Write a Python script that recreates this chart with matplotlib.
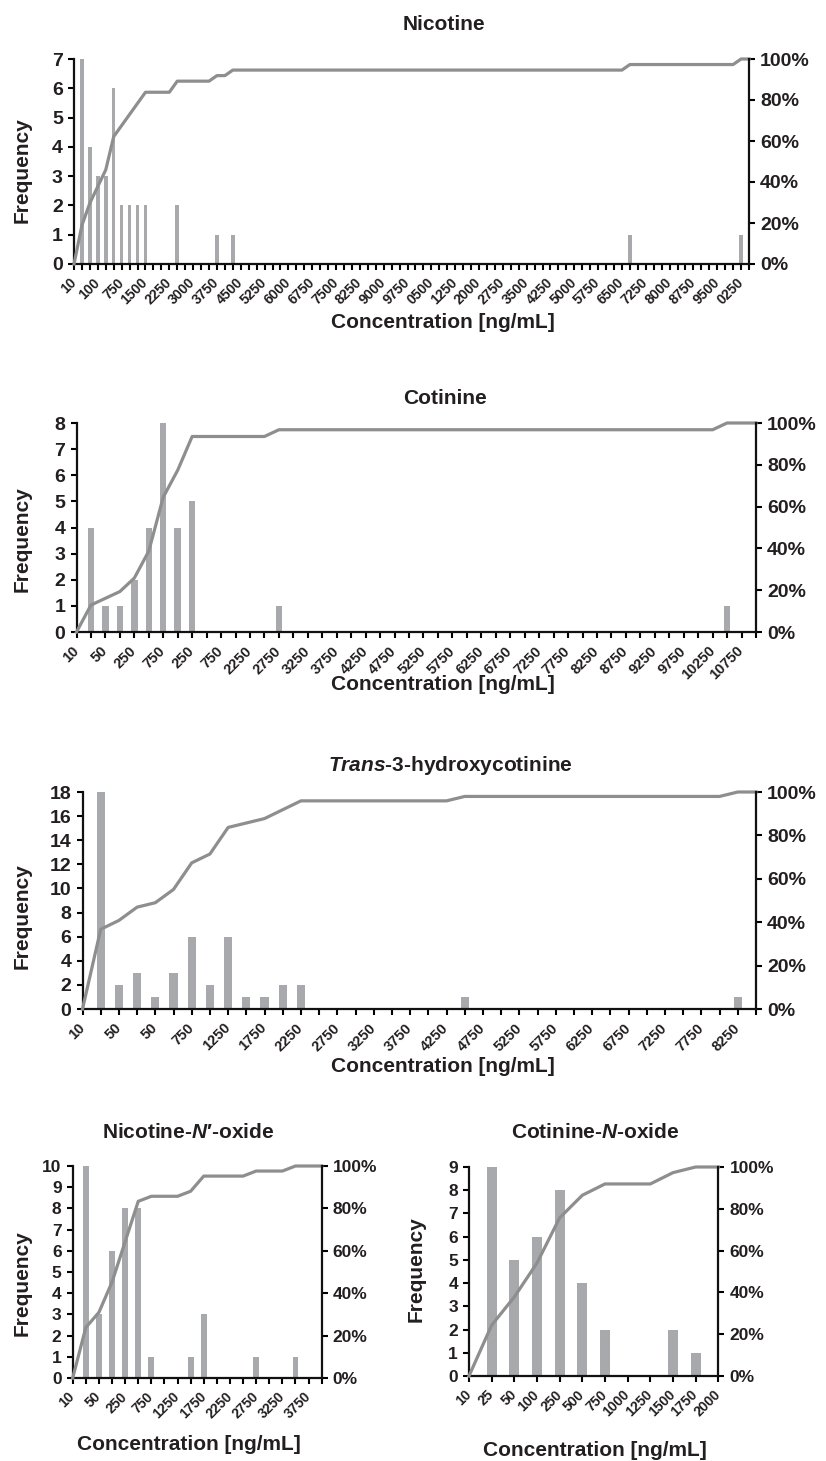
import numpy as np
import matplotlib
matplotlib.use('Agg')
import matplotlib.pyplot as plt

plt.rcParams['font.family'] = ['Liberation Sans', 'DejaVu Sans']
plt.rcParams['font.weight'] = 'bold'
plt.rcParams['mathtext.fontset'] = 'custom'
plt.rcParams['mathtext.it'] = 'Liberation Sans:italic:bold'
plt.rcParams['mathtext.rm'] = 'Liberation Sans:bold'
plt.rcParams['mathtext.bf'] = 'Liberation Sans:bold'

# ---------------- data ----------------
# Nicotine: 86 bins (10, 25, 50, 100, 250, 500, 750 ... 20250 step 250, More)
nic_counts = [0, 7, 4, 3, 3, 6, 2, 2, 2, 2,
              0, 0, 0, 2, 0, 0, 0, 0, 1, 0,
              1, 0, 0, 0, 0, 0, 0, 0, 0, 0,
              0, 0, 0, 0, 0, 0, 0, 0, 0, 0,
              0, 0, 0, 0, 0, 0, 0, 0, 0, 0,
              0, 0, 0, 0, 0, 0, 0, 0, 0, 0,
              0, 0, 0, 0, 0, 0, 0, 0, 0, 0,
              1, 0, 0, 0, 0, 0, 0, 0, 0, 0,
              0, 0, 0, 0, 1, 0]
nic_labels = ["10", "100", "750", "1500", "2250", "3000", "3750", "4500", "5250",
              "6000", "6750", "7500", "8250", "9000", "9750", "0500", "1250", "2000",
              "2750", "3500", "4250", "5000", "5750", "6500", "7250", "8000", "8750",
              "9500", "0250"]

# Cotinine: 48 bins
cot_counts = [0, 4, 1, 1, 2, 4, 8, 4, 5, 0,
              0, 0, 0, 0, 1, 0, 0, 0, 0, 0,
              0, 0, 0, 0, 0, 0, 0, 0, 0, 0,
              0, 0, 0, 0, 0, 0, 0, 0, 0, 0,
              0, 0, 0, 0, 0, 1, 0, 0]
cot_labels = ["10", "50", "250", "750", "250", "750", "2250", "2750", "3250", "3750",
              "4250", "4750", "5250", "5750", "6250", "6750", "7250", "7750", "8250",
              "8750", "9250", "9750", "10250", "10750"]

# Trans-3-hydroxycotinine: 38 bins
hc_counts = [0, 18, 2, 3, 1, 3, 6, 2, 6, 1,
             1, 2, 2, 0, 0, 0, 0, 0, 0, 0,
             0, 1, 0, 0, 0, 0, 0, 0, 0, 0,
             0, 0, 0, 0, 0, 0, 1, 0]
hc_labels = ["10", "50", "50", "750", "1250", "1750", "2250", "2750", "3250", "3750",
             "4250", "4750", "5250", "5750", "6250", "6750", "7250", "7750", "8250"]

# Nicotine-N'-oxide: 20 bins
nno_counts = [0, 10, 3, 6, 8, 8, 1, 0, 0, 1, 3, 0, 0, 0, 1, 0, 0, 1, 0, 0]
nno_labels = ["10", "50", "250", "750", "1250", "1750", "2250", "2750", "3250", "3750"]

# Cotinine-N-oxide: 12 bins
cno_counts = [0, 9, 5, 6, 8, 4, 2, 0, 0, 2, 1, 0]
cno_labels = ["10", "25", "50", "100", "250", "500", "750", "1000", "1250", "1500",
              "1750", "2000"]

# ---------------- styling ----------------
BAR = '#A7A9AC'
LINE = '#8E8E8E'
TXT = '#231F20'
W, H = 826, 1461
fig = plt.figure(figsize=(W / 100, H / 100), dpi=100)


def rect(l, r, t, b):
    return [l / W, 1 - b / H, (r - l) / W, (b - t) / H]


def fx(x):
    return x / W


def fy(y):
    return 1 - y / H


def panel(box, counts, labels, step, ymax, ystep, title, title_xy, xlabel_xy,
          ylabel_xy, ytick_fs, xtick_fs):
    ax = fig.add_axes(rect(*box))
    n = len(counts)
    x = np.arange(n)
    ax.bar(x, counts, width=0.45, color=BAR, zorder=2)
    ax.set_xlim(0, n - 1)
    ax.set_ylim(0, ymax)
    ax.set_yticks(np.arange(0, ymax + 0.01, ystep))
    full = [labels[i // step] if (i % step == 0 and i // step < len(labels)) else ''
            for i in range(n)]
    ax.set_xticks(x)
    ax.set_xticklabels(full, rotation=45, ha='right', va='center',
                       rotation_mode='anchor', fontsize=xtick_fs, color=TXT)
    for lab in ax.get_yticklabels():
        lab.set_fontsize(ytick_fs)
        lab.set_color(TXT)
    ax.tick_params(axis='x', direction='out', length=4, width=1.5, pad=8)
    ax.tick_params(axis='y', direction='out', length=4, width=1.5, pad=4)
    for s in ['top', 'right']:
        ax.spines[s].set_visible(False)
    for s in ['left', 'bottom']:
        ax.spines[s].set_linewidth(1.6)
        ax.spines[s].set_color('#111111')

    cum = np.cumsum(counts) / np.sum(counts)
    ax2 = ax.twinx()
    ax2.plot(x, cum, color=LINE, lw=2.3, solid_joinstyle='round', clip_on=False)
    ax2.set_xlim(0, n - 1)
    ax2.set_ylim(0, 1)
    ticks = np.linspace(0, 1, 6)
    ax2.set_yticks(ticks)
    ax2.set_yticklabels([f'{int(round(t * 100))}%' for t in ticks],
                        fontsize=ytick_fs, color=TXT)
    ax2.tick_params(axis='y', direction='out', length=4, width=1.5, pad=4)
    for s in ['top', 'left', 'bottom']:
        ax2.spines[s].set_visible(False)
    ax2.spines['right'].set_linewidth(1.6)
    ax2.spines['right'].set_color('#111111')

    fig.text(fx(title_xy[0]), fy(title_xy[1]), title, ha='center', va='center',
             fontsize=15, fontweight='bold', color=TXT)
    fig.text(fx(xlabel_xy[0]), fy(xlabel_xy[1]), 'Concentration [ng/mL]',
             ha='center', va='center', fontsize=15, fontweight='bold', color=TXT)
    fig.text(fx(ylabel_xy[0]), fy(ylabel_xy[1]), 'Frequency', rotation=90,
             ha='center', va='center', fontsize=15, fontweight='bold', color=TXT)


panel((74, 749, 59, 264), nic_counts, nic_labels, 3, 7, 1, 'Nicotine',
      (444, 24), (443, 322), (22, 170), 14, 10)
panel((76.5, 756, 423, 632), cot_counts, cot_labels, 2, 8, 1, 'Cotinine',
      (445, 399), (443, 684), (22, 539), 14, 10.5)
panel((82.5, 756, 792, 1009), hc_counts, hc_labels, 2, 18, 2,
      r'$\mathit{Trans}$-3-hydroxycotinine',
      (450, 765), (443, 1066), (22, 916), 14, 10.5)
panel((72.7, 321.7, 1166, 1378), nno_counts, nno_labels, 2, 10, 1,
      'Nicotine-$\\mathit{N}$\u2032-oxide',
      (188, 1133), (188.5, 1444), (22, 1283), 12.5, 10)
panel((469, 718.3, 1167, 1376), cno_counts, cno_labels, 1, 9, 1,
      'Cotinine-$\\mathit{N}$-oxide',
      (595, 1133), (595, 1451), (416, 1269), 12.5, 10)

fig.savefig('out.png', dpi=100, facecolor='white')
